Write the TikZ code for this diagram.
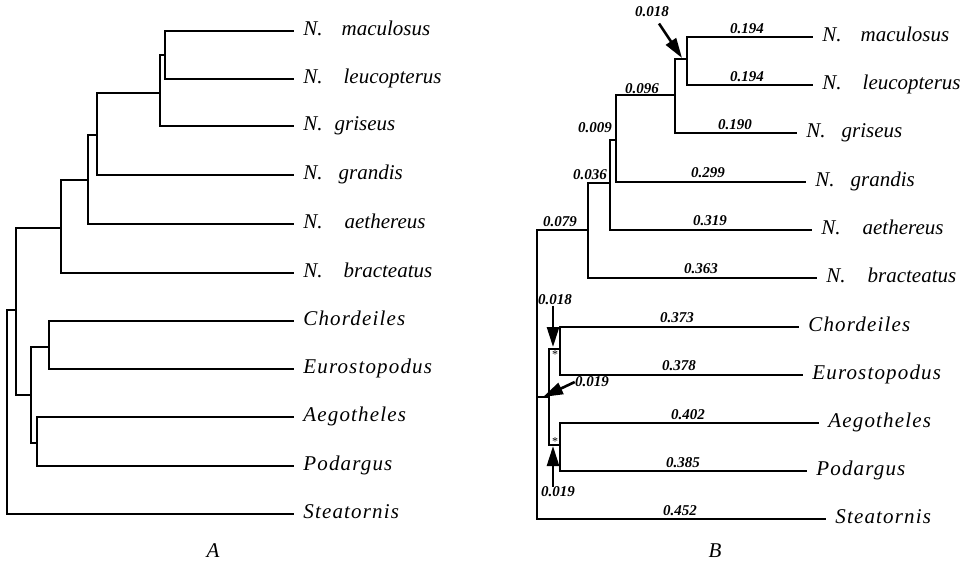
\documentclass[tikz,border=0pt]{standalone}
\usepackage{fontspec}
\setmainfont{Liberation Serif}
\newfontfamily\taxfont{Liberation Serif}[LetterSpace=5.5]
\usetikzlibrary{positioning,arrows.meta}
\newcommand{\nyct}[2][9pt]{N.\hspace{#1}#2}

\begin{document}
\begin{tikzpicture}[x=0.5pt, y=-0.5pt, branch/.style={line width=1pt, line cap=rect}, taxon/.style={anchor=mid west, inner xsep=5pt, inner ysep=0pt, font=\itshape\fontsize{10.5}{12}\selectfont}, genus/.style={taxon, font=\taxfont\itshape\fontsize{10.5}{12}\selectfont}, blen/.style={inner sep=0pt, font=\bfseries\itshape\fontsize{7.5}{8}\selectfont}, ast/.style={inner sep=0pt, font=\fontsize{6}{6}\selectfont}, pointer/.style={-{Triangle[length=10pt, width=6pt]}, line width=1.3pt}, panel/.style={font=\itshape\fontsize{10.5}{12}\selectfont}]
        \useasboundingbox (0,0) rectangle (963,574);
        % tree A
        \coordinate (ra) at (7,310);
        \coordinate (a6) at (16,310);
        \coordinate (a5) at (61,228);
        \coordinate (a4) at (88,180);
        \coordinate (a3) at (97,135);
        \coordinate (a2) at (160,93);
        \coordinate (a1) at (165,55);
        \coordinate (a9) at (31,395);
        \coordinate (a7) at (49,347);
        \coordinate (a8) at (37,443);
        \node[taxon] (Amac) at (293,31) {\nyct[9.5pt]{maculosus}};
        \node[taxon] (Aleu) at (293,79) {\nyct[10.5pt]{leucopterus}};
        \node[taxon] (Agri) at (293,126) {\nyct[6pt]{griseus}};
        \node[taxon] (Agrd) at (293,175) {\nyct[8pt]{grandis}};
        \node[taxon] (Aaet) at (293,224) {\nyct[11pt]{aethereus}};
        \node[taxon] (Abra) at (293,273) {\nyct[10.5pt]{bracteatus}};
        \node[genus] (Acho) at (293,321) {Chordeiles};
        \node[genus] (Aeur) at (293,369) {Eurostopodus};
        \node[genus] (Aaeg) at (293,417) {Aegotheles};
        \node[genus] (Apod) at (293,466) {Podargus};
        \node[genus] (Aste) at (293,514) {Steatornis};
        \node[panel] (A) at (213,551) {A};
        \draw[branch] (a1) |- (Amac.mid west) (a1) |- (Aleu.mid west);
        \draw[branch] (a2) |- (a1) (a2) |- (Agri.mid west);
        \draw[branch] (a3) |- (a2) (a3) |- (Agrd.mid west);
        \draw[branch] (a4) |- (a3) (a4) |- (Aaet.mid west);
        \draw[branch] (a5) |- (a4) (a5) |- (Abra.mid west);
        \draw[branch] (a7) |- (Acho.mid west) (a7) |- (Aeur.mid west);
        \draw[branch] (a8) |- (Aaeg.mid west) (a8) |- (Apod.mid west);
        \draw[branch] (a9) |- (a7) (a9) |- (a8);
        \draw[branch] (a6) |- (a5) (a6) |- (a9);
        \draw[branch] (ra) -- (a6) (ra) |- (Aste.mid west);
        % tree B
        \coordinate (rb) at (537,397);
        \coordinate (b5) at (588,230);
        \coordinate (b4) at (610,183);
        \coordinate (b3) at (616,140);
        \coordinate (b2) at (675,95);
        \coordinate (b1) at (687,59);
        \coordinate (b6) at (549,397);
        \coordinate (b7) at (560,349);
        \coordinate (b8) at (560,445);
        \node[taxon] (Bmac) at (812,37) {\nyct[9.5pt]{maculosus}};
        \node[taxon] (Bleu) at (812,85) {\nyct[10.5pt]{leucopterus}};
        \node[taxon] (Bgri) at (796,133) {\nyct[8pt]{griseus}};
        \node[taxon] (Bgrd) at (805,182) {\nyct[8pt]{grandis}};
        \node[taxon] (Baet) at (811,230) {\nyct[11pt]{aethereus}};
        \node[taxon] (Bbra) at (816,278) {\nyct[11pt]{bracteatus}};
        \node[genus] (Bcho) at (798,327) {Chordeiles};
        \node[genus] (Beur) at (802,375) {Eurostopodus};
        \node[genus] (Baeg) at (818,423) {Aegotheles};
        \node[genus] (Bpod) at (806,471) {Podargus};
        \node[genus] (Bste) at (825,519) {Steatornis};
        \node[panel] (B) at (715,551) {B};
        \draw[branch] (b1) |- (Bmac.mid west) (b1) |- (Bleu.mid west);
        \draw[branch] (b2) |- (b1) (b2) |- (Bgri.mid west);
        \draw[branch] (b3) |- (b2) (b3) |- (Bgrd.mid west);
        \draw[branch] (b4) |- (b3) (b4) |- (Baet.mid west);
        \draw[branch] (b5) |- (b4) (b5) |- (Bbra.mid west);
        \draw[branch] (b7) |- (Bcho.mid west) (b7) |- (Beur.mid west);
        \draw[branch] (b8) |- (Baeg.mid west) (b8) |- (Bpod.mid west);
        \draw[branch] (b6) |- (b7) (b6) |- (b8);
        \draw[branch] (rb) |- (b5) (rb) -- (b6) (rb) |- (Bste.mid west);
        % branch lengths
        \node[blen] (Lmac) at (747,29) {0.194};
        \node[blen] (Lleu) at (747,77) {0.194};
        \node[blen] (Lb2) at (642,89) {0.096};
        \node[blen] (Lgri) at (735,125) {0.190};
        \node[blen] (Lb3) at (595,128) {0.009};
        \node[blen] (Lgrd) at (708,173) {0.299};
        \node[blen] (Lb4) at (590,175) {0.036};
        \node[blen] (Laet) at (710,221) {0.319};
        \node[blen] (Lb5) at (560,222) {0.079};
        \node[blen] (Lbra) at (701,269) {0.363};
        \node[blen] (Lcho) at (677,318) {0.373};
        \node[blen] (Leur) at (679,366) {0.378};
        \node[blen] (Laeg) at (688,415) {0.402};
        \node[blen] (Lpod) at (683,463) {0.385};
        \node[blen] (Lste) at (680,511) {0.452};
        \node[ast] (s7) at (555,355) {*};
        \node[ast] (s8) at (555,442) {*};
        % pointers
        \node[blen] (Ltop) at (652,12) {0.018};
        \node[blen] (L018) at (555,300) {0.018};
        \node[blen] (L019a) at (592,382) {0.019};
        \node[blen] (L019b) at (558,492) {0.019};
        \coordinate (tTop) at (682,58);
        \coordinate (t018) at (553,347);
        \coordinate (t019a) at (543,397);
        \coordinate (t019b) at (553,446);
        \draw[pointer] ([xshift=3.5pt,yshift=-3pt]Ltop.south) -- (tTop);
        \draw[pointer] (L018.south -| t018) -- (t018);
        \draw[pointer] (L019a.west) -- (t019a);
        \draw[pointer] (L019b.north -| t019b) -- (t019b);
    \end{tikzpicture}
\end{document}
